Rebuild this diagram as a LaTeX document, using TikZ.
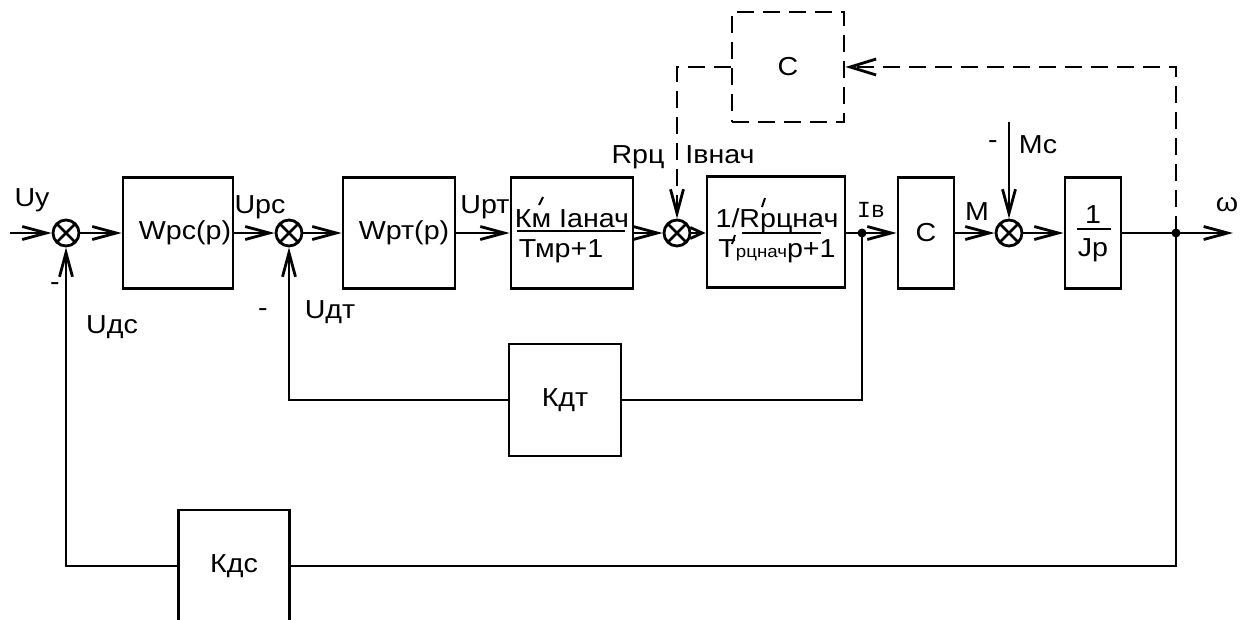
\documentclass[tikz,border=0pt]{standalone}
\usepackage{fontspec}
\setmainfont{Liberation Sans}[FakeStretch=1.1]
\newfontfamily\monof{Liberation Mono}
\usetikzlibrary{arrows.meta}
\begin{document}
\begin{tikzpicture}[x=1pt,y=-1pt,line width=2.8pt,
  >={Straight Barb[length=24pt,width=13pt]},
  every node/.style={font=\fontsize{26}{30}\selectfont,inner sep=0pt},
  blk/.style n args={2}{draw,line width=2.8pt,minimum width=#1pt,minimum height=#2pt,inner sep=0pt},
  sumj/.style={circle,draw,line width=2.8pt,minimum size=26pt,inner sep=0pt,
    path picture={\draw[line width=2.8pt] (path picture bounding box.north west) -- (path picture bounding box.south east)
      (path picture bounding box.north east) -- (path picture bounding box.south west);}},
  dot/.style={circle,fill,minimum size=9pt,inner sep=0pt},
  dsh/.style={dash pattern=on 17pt off 9pt},
  frac/.style={font=\fontsize{26}{30}\selectfont},
  prm/.style={line width=2pt}]
\useasboundingbox (0,0) rectangle (1251,619);

% summing junctions
\node[sumj] (s1) at (66,233) {};
\node[sumj] (s2) at (289,233) {};
\node[sumj] (s3) at (677,233) {};
\node[sumj] (s4) at (1009,233) {};

% blocks
\node[blk={110}{111}] (Wpc) at (178,233) {\hspace*{14pt}Wрс(р)};
\node[blk={112}{111}] (Wpt) at (399,233) {\hspace*{10pt}Wрт(р)};
\node[blk={122}{111}] (Km) at (572,233) {};
\node[blk={138}{111}] (R) at (776,232) {};
\node[blk={56}{111}] (C) at (926,233) {С};
\node[blk={56}{111}] (Jp) at (1093,233) {};
\node[blk={112}{112}] (Kdt) at (565,400) {Кдт};
\node[blk={111}{112}] (Kdc) at (234,566) {Кдс};
\node[blk={112}{110},dsh] (dC) at (788,67) {С};

% junction dots
\node[dot] (j1) at (862,233) {};
\node[dot] (j2) at (1176,233) {};

% free ends
\coordinate (in) at (10,233);
\coordinate (out) at (1233,233);
\coordinate (mc) at (1009,122);

% fraction contents
\node[frac,anchor=base] (kmn) at (572,227) {Км Iанач};
\node[frac,anchor=base] (kmd) at (561,257) {Тмр+1};
\draw[line width=2.2pt] (517,231) -- (625,231);
\draw[prm] (539,205) -- (543,197);

\node[frac,anchor=base] (rn) at (777,227) {1/Rрцнач};
\node[frac,anchor=base] (rd) at (777,257) {Т{\fontsize{17}{19}\selectfont рцнач}р+1};
\draw[line width=2.2pt] (742,233) -- (821,233);
\draw[prm] (762,207) -- (765,198);
\draw[prm] (732,244) -- (735,235);

\node[frac,anchor=base] (jn) at (1093,223) {1};
\node[frac,anchor=base] (jd) at (1093,256) {Jр};
\draw[line width=2.2pt] (1077,229) -- (1111,229);

% labels
\node (lUy) at (32,200) {Uу};
\node (lm1) at (55,287) {-};
\node (lUdc) at (112,327) {Uдс};
\node (lUpc) at (260,207) {Uрс};
\node (lm2) at (263,313) {-};
\node (lUdt) at (330,312) {Uдт};
\node (lUpt) at (485,207) {Uрт};
\node (lRpc) at (638,157) {Rрц};
\node (lIv) at (720,155) {Iвнач};
\node[font=\monof\fontsize{23}{26}\selectfont] (lIb) at (871,210) {Iв};
\node (lM) at (977,212) {М};
\node (lm3) at (993,145) {-};
\node (lMc) at (1038,145) {Мс};
\node (lw) at (1227,205) {ω};

% forward path
\draw[->] (in) -- (s1);
\draw[->] (s1) -- (Wpc);
\draw[->] (Wpc) -- (s2);
\draw[->] (s2) -- (Wpt);
\draw[->] (Wpt) -- (Km);
\draw[->] (Km) -- (s3);
\draw[-{Straight Barb[length=12pt,width=11pt]}] (s3) -- (R.west |- s3);
\draw[->] (R.east |- j1) -- (C);
\draw[->] (C) -- (s4);
\draw[->] (s4) -- (Jp);
\draw[->] (Jp) -- (out);
\draw[->] (mc) -- (s4);

% feedback loops
\draw (j1.center) -- (j1.center |- Kdt) -- (Kdt.east);
\draw[->] (Kdt.west) -- (s2 |- Kdt) -- (s2);
\draw (j2.center) -- (j2.center |- Kdc) -- (Kdc.east);
\draw[->] (Kdc.west) -- (s1 |- Kdc) -- (s1);

% dashed loop
\draw[dsh,-{Straight Barb[length=26pt,width=16pt]}] (j2.center) -- (j2.center |- dC) -- (dC.east);
\draw[dsh,->] (dC.west) -- (s3 |- dC) -- (s3);
\end{tikzpicture}
\end{document}
